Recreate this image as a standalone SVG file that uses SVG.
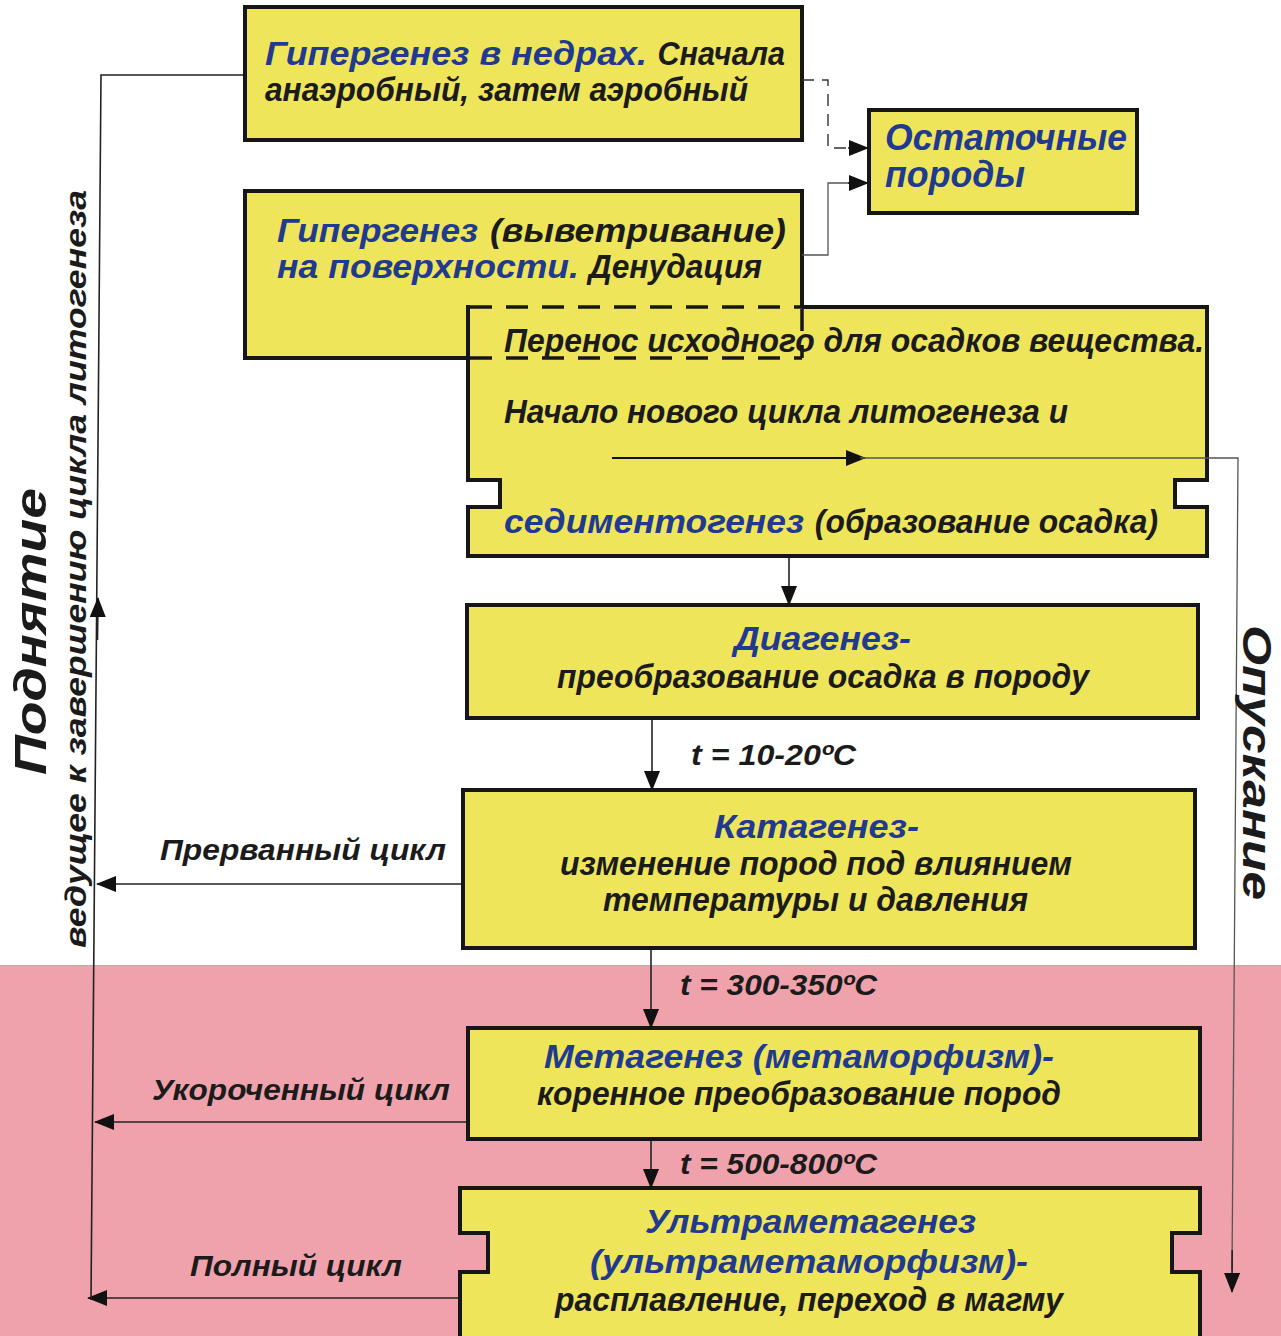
<svg xmlns="http://www.w3.org/2000/svg" width="1281" height="1336" viewBox="0 0 1281 1336">
<defs>
<style>
.box{fill:#EEE55B;stroke:#161616;stroke-width:4}
.fillonly{fill:#EEE55B;stroke:none}
.edge{fill:none;stroke:#161616;stroke-width:4}
.dash{fill:none;stroke:#161616;stroke-width:3.5;stroke-dasharray:22 14}
.t{font-family:"Liberation Sans",Arial,sans-serif;font-weight:bold;font-style:italic;fill:#1b1b1b;font-size:33px}
.b{fill:#1F3A8E}
.lbl{font-size:29px}
.big{font-size:45px}
.c{fill:none;stroke:#222;stroke-width:1.6}
.ck{fill:none;stroke:#111;stroke-width:2.2}
.ct{fill:none;stroke:#555;stroke-width:1.3}
.cd{fill:none;stroke:#333;stroke-width:1.4;stroke-dasharray:12 8}
</style>
<marker id="ah" markerUnits="userSpaceOnUse" markerWidth="20" markerHeight="16" refX="19" refY="8" orient="auto"><path d="M0,0 L20,8 L0,16 Z" fill="#111"/></marker>
</defs>
<rect x="0" y="0" width="1281" height="1336" fill="#FFFFFF"/>
<g id="deep-zone">
<rect x="0" y="965" width="1281" height="371" fill="#EFA2AC"/>
<line x1="0" y1="965.5" x2="1281" y2="965.5" stroke="#B8A8A8" stroke-width="1"/>
</g>

<g id="node-hypergenesis-depth">
<rect class="box" x="245" y="7" width="557" height="133"/>
<text class="t" y="65"><tspan class="b" x="265" textLength="382" lengthAdjust="spacingAndGlyphs">Гипергенез в недрах.</tspan><tspan x="649" textLength="136" lengthAdjust="spacingAndGlyphs"> Сначала</tspan></text>
<text class="t" x="265" y="101" textLength="483" lengthAdjust="spacingAndGlyphs">анаэробный, затем аэробный</text>
</g>

<g id="node-residual">
<rect class="box" x="869" y="110" width="268" height="103"/>
<text class="t b" style="font-size:36px" x="885" y="150" textLength="242" lengthAdjust="spacingAndGlyphs">Остаточные</text>
<text class="t b" style="font-size:36px" x="885" y="187" textLength="140" lengthAdjust="spacingAndGlyphs">породы</text>
</g>

<g id="node-hypergenesis-surface">
<rect class="box" x="245" y="191" width="557" height="167"/>
<text class="t" y="242"><tspan class="b" x="277" textLength="201" lengthAdjust="spacingAndGlyphs">Гипергенез</tspan><tspan x="480" textLength="306" lengthAdjust="spacingAndGlyphs"> (выветривание)</tspan></text>
<text class="t" y="278"><tspan class="b" x="277" textLength="302" lengthAdjust="spacingAndGlyphs">на поверхности.</tspan><tspan x="580" textLength="182" lengthAdjust="spacingAndGlyphs"> Денудация</tspan></text>
</g>

<g id="node-sedimentogenesis">
<path class="fillonly" d="M468,307 H1207 V480 H1175 V507 H1207 V556 H468 V507 H500 V480 H468 Z"/>
<path class="edge" d="M802,307 H1207 V480 H1175 V507 H1207 V556 H468 V507 H500 V480 H468 V305"/>
<path class="dash" d="M470,307 H802 M470,358 H802 M802,309 V358"/>
<text class="t" x="504" y="352" textLength="700" lengthAdjust="spacingAndGlyphs">Перенос исходного для осадков  вещества.</text>
<text class="t" x="504" y="423" textLength="564" lengthAdjust="spacingAndGlyphs">Начало нового цикла литогенеза и</text>
<text class="t" y="533"><tspan class="b" x="504" textLength="300" lengthAdjust="spacingAndGlyphs">седиментогенез</tspan><tspan x="806" textLength="352" lengthAdjust="spacingAndGlyphs"> (образование осадка)</tspan></text>
</g>

<g id="node-diagenesis">
<rect class="box" x="467" y="605" width="731" height="113"/>
<text class="t b" x="734" y="650" textLength="177" lengthAdjust="spacingAndGlyphs">Диагенез-</text>
<text class="t" x="557" y="688" textLength="532" lengthAdjust="spacingAndGlyphs">преобразование осадка в породу</text>
</g>

<g id="node-catagenesis">
<rect class="box" x="463" y="790" width="732" height="158"/>
<text class="t b" x="714" y="838" textLength="205" lengthAdjust="spacingAndGlyphs">Катагенез-</text>
<text class="t" x="560" y="875" textLength="512" lengthAdjust="spacingAndGlyphs">изменение пород под влиянием</text>
<text class="t" x="603" y="911" textLength="425" lengthAdjust="spacingAndGlyphs">температуры и давления</text>
</g>

<g id="node-metagenesis">
<rect class="box" x="468" y="1028" width="732" height="111"/>
<text class="t b" x="544" y="1068" textLength="510" lengthAdjust="spacingAndGlyphs">Метагенез (метаморфизм)-</text>
<text class="t" x="537" y="1105" textLength="524" lengthAdjust="spacingAndGlyphs">коренное преобразование пород</text>
</g>

<g id="node-ultrametagenesis">
<path class="box" d="M460,1188 H1200 V1233 H1172 V1272 H1200 V1345 H460 V1272 H488 V1233 H460 Z"/>
<text class="t b" x="645" y="1233" textLength="331" lengthAdjust="spacingAndGlyphs">Ультраметагенез</text>
<text class="t b" x="590" y="1273" textLength="438" lengthAdjust="spacingAndGlyphs">(ультраметаморфизм)-</text>
<text class="t" x="555" y="1311" textLength="508" lengthAdjust="spacingAndGlyphs">расплавление, переход в магму</text>
</g>

<g id="connectors">
<path class="cd" d="M802,80 H828 V148 H850"/>
<path class="c" d="M848,148 H868" marker-end="url(#ah)"/>
<path class="ct" d="M802,255 H828 V183 H850"/>
<path class="c" d="M848,183 H868" marker-end="url(#ah)"/>
<path class="c" d="M789,558 V605" marker-end="url(#ah)"/>
<path class="c" d="M652,720 V790" marker-end="url(#ah)"/>
<path class="c" d="M651,950 V1028" marker-end="url(#ah)"/>
<path class="c" d="M651,1141 V1188" marker-end="url(#ah)"/>
<path class="c" d="M461,884 H97" marker-end="url(#ah)"/>
<path class="c" d="M466,1122 H95" marker-end="url(#ah)"/>
<path class="c" d="M458,1298 H88" marker-end="url(#ah)"/>
<path class="c" d="M243,75 H101 L91,1300"/>
<path class="c" d="M97.5,640 L98,598" marker-end="url(#ah)"/>
<path class="ck" d="M612,458 H865" marker-end="url(#ah)"/>
<path class="ct" d="M860,458 H1238 L1232,1270"/>
<path class="c" d="M1232.2,1250 L1232,1292" marker-end="url(#ah)"/>
</g>

<g id="labels">
<text class="t lbl" x="691" y="765" textLength="165" lengthAdjust="spacingAndGlyphs">t = 10-20ºC</text>
<text class="t lbl" x="680" y="995" textLength="197" lengthAdjust="spacingAndGlyphs">t = 300-350ºC</text>
<text class="t lbl" x="680" y="1174" textLength="197" lengthAdjust="spacingAndGlyphs">t = 500-800ºC</text>
<text class="t lbl" x="160" y="860" textLength="286" lengthAdjust="spacingAndGlyphs">Прерванный цикл</text>
<text class="t lbl" x="152" y="1100" textLength="298" lengthAdjust="spacingAndGlyphs">Укороченный цикл</text>
<text class="t lbl" x="190" y="1276" textLength="212" lengthAdjust="spacingAndGlyphs">Полный цикл</text>
<text class="t big" transform="translate(46,775) rotate(-90)" x="0" y="0" textLength="287" lengthAdjust="spacingAndGlyphs">Поднятие</text>
<text class="t" style="font-size:30px" transform="translate(86,948) rotate(-90)" x="0" y="0" textLength="758" lengthAdjust="spacingAndGlyphs">ведущее к завершению цикла литогенеза</text>
<text class="t" style="font-size:40px" transform="translate(1243,625) rotate(90)" x="0" y="0" textLength="275" lengthAdjust="spacingAndGlyphs">Опускание</text>
</g>
</svg>
